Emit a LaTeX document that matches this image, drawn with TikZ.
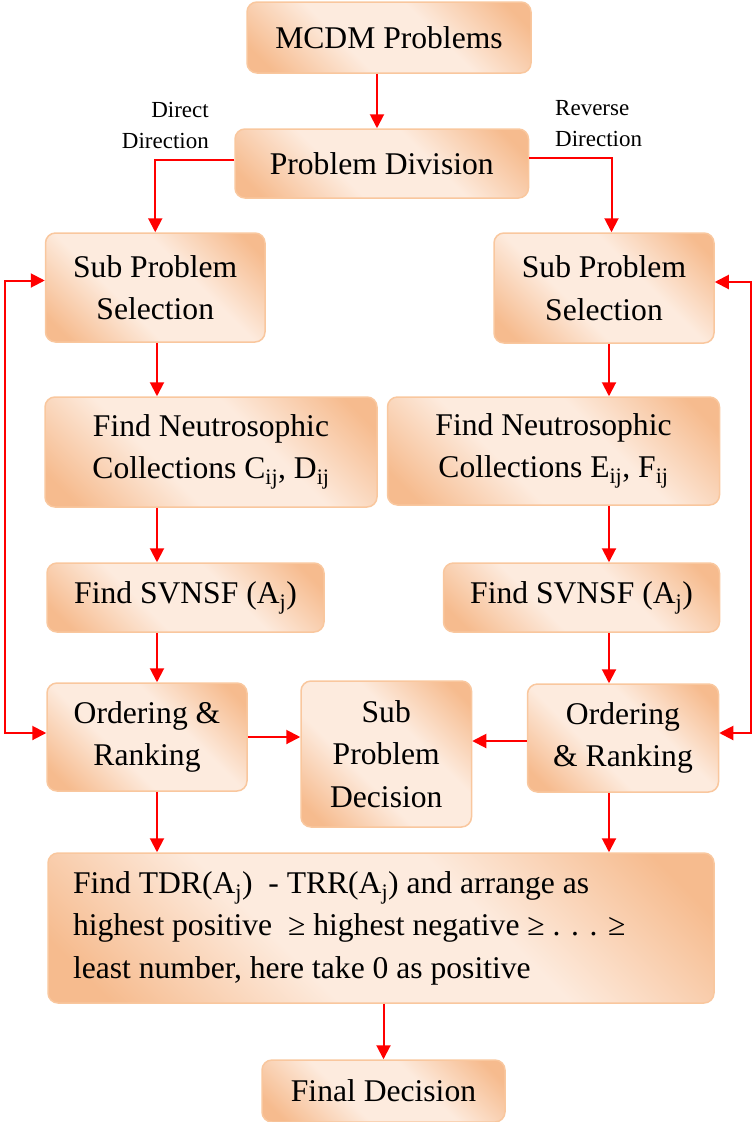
\documentclass[tikz,border=0pt]{standalone}
\usepackage{fontspec}
\setmainfont{Liberation Serif}
\usetikzlibrary{arrows.meta}

\definecolor{boxdark}{RGB}{246,187,142}
\definecolor{boxlight}{RGB}{253,235,222}
\definecolor{boxline}{RGB}{249,199,158}
\pgfdeclareverticalshading{boxshade}{100bp}{color(0bp)=(boxdark); color(20bp)=(boxdark); color(40bp)=(boxlight); color(60bp)=(boxlight); color(80bp)=(boxdark); color(100bp)=(boxdark)}

\begin{document}
\begin{tikzpicture}[x=1pt, y=-1pt,
	box/.style={draw=boxline, line width=1.5pt, rounded corners=10pt, shading=boxshade, shading angle=-45, align=center, inner sep=0pt, font=\fontsize{31.6}{42.5}\selectfont},
	arr/.style={draw=red, line width=2pt, -{Triangle[length=14pt,width=14pt]}},
	loop/.style={draw=red, line width=2pt, {Triangle[length=14pt,width=14pt]}-{Triangle[length=14pt,width=14pt]}},
	lbl/.style={inner sep=0pt, font=\fontsize{23}{31}\selectfont}]
	\useasboundingbox (0,0) rectangle (752,1122);

	% The two top boxes
	\node (mcdm) at (389,37.5) [box, minimum width=284pt, minimum height=71pt] {MCDM Problems};
	\node (div) at (381.75,163.5) [box, minimum width=293.5pt, minimum height=69pt] {Problem Division};
	\node (dirL) at (209,125) [lbl, anchor=east, align=right] {Direct\\Direction};
	\node (dirR) at (555,124) [lbl, anchor=west, align=left] {Reverse\\Direction};

	% Direct direction (left column)
	\node (subL) at (155.25,287.5) [box, minimum width=219.5pt, minimum height=109pt] {Sub Problem\\Selection};
	\node (findL) at (211,452) [box, minimum width=332pt, minimum height=110pt] {Find Neutrosophic\\Collections C\textsubscript{ij}, D\textsubscript{ij}};
	\node (svL) at (185.5,597.5) [box, minimum width=277pt, minimum height=69pt] {Find SVNSF (A\textsubscript{j})};
	\node (ordL) at (147,737) [box, minimum width=200pt, minimum height=108pt] {Ordering \&\\Ranking};

	% Reverse direction (right column)
	\node (subR) at (604,288) [box, minimum width=220pt, minimum height=110pt] {Sub Problem\\Selection};
	\node (findR) at (553.5,451) [box, minimum width=332pt, minimum height=108pt] {Find Neutrosophic\\Collections E\textsubscript{ij}, F\textsubscript{ij}};
	\node (svR) at (581.5,597.5) [box, minimum width=276pt, minimum height=69pt] {Find SVNSF (A\textsubscript{j})};
	\node (ordR) at (623,738) [box, minimum width=191pt, minimum height=108pt] {Ordering\\\& Ranking};

	% Decisions
	\node (spd) at (386.25,754) [box, minimum width=170.5pt, minimum height=146pt] {Sub\\Problem\\Decision};
	\node (tdr) at (381,928) [box, minimum width=666pt, minimum height=150pt, text width=616pt, inner xsep=25pt, align=flush left] {Find TDR(A\textsubscript{j})~ - TRR(A\textsubscript{j}) and arrange as\\highest positive ~≥ highest negative ≥ . . . ≥\\least number, here take 0 as positive};
	\node (final) at (383.5,1091) [box, minimum width=243pt, minimum height=62pt] {Final Decision};

	% Column lines for the arrows
	\coordinate (colM) at (377,0);
	\coordinate (colL) at (157,0);
	\coordinate (colR) at (609,0);
	\coordinate (fbL) at (5,0);
	\coordinate (fbR) at (750.5,0);

	% Arrows
	\draw [arr] (mcdm.south -| colM) -- (div.north -| colM);
	\draw [arr] ([yshift=3.5pt]div.west) -| (subL.north);
	\draw [arr] ([yshift=5.5pt]div.east) -| ([xshift=7.5pt]subR.north);
	\draw [arr] (subL.south -| colL) -- (findL.north -| colL);
	\draw [arr] (findL.south -| colL) -- (svL.north -| colL);
	\draw [arr] (svL.south -| colL) -- (ordL.north -| colL);
	\draw [arr] (ordL.south -| colL) -- (tdr.north -| colL);
	\draw [arr] (subR.south -| colR) -- (findR.north -| colR);
	\draw [arr] (findR.south -| colR) -- (svR.north -| colR);
	\draw [arr] (svR.south -| colR) -- (ordR.north -| colR);
	\draw [arr] (ordR.south -| colR) -- (tdr.north -| colR);
	\draw [arr] (ordL.east) -- (ordL.east -| spd.west);
	\draw [arr] ([yshift=-3pt]ordR.west) -- ([yshift=-3pt]ordR.west -| spd.east);
	\draw [arr] (tdr.south -| final.north) -- (final.north);

	% Feedback loops
	\draw [loop] ([yshift=7pt]subL.west) -- ([yshift=7pt]subL.west -| fbL) |- ([yshift=4pt]ordL.west);
	\draw [loop] ([yshift=6pt]subR.east) -- ([yshift=6pt]subR.east -| fbR) |- ([yshift=5pt]ordR.east);
\end{tikzpicture}
\end{document}
